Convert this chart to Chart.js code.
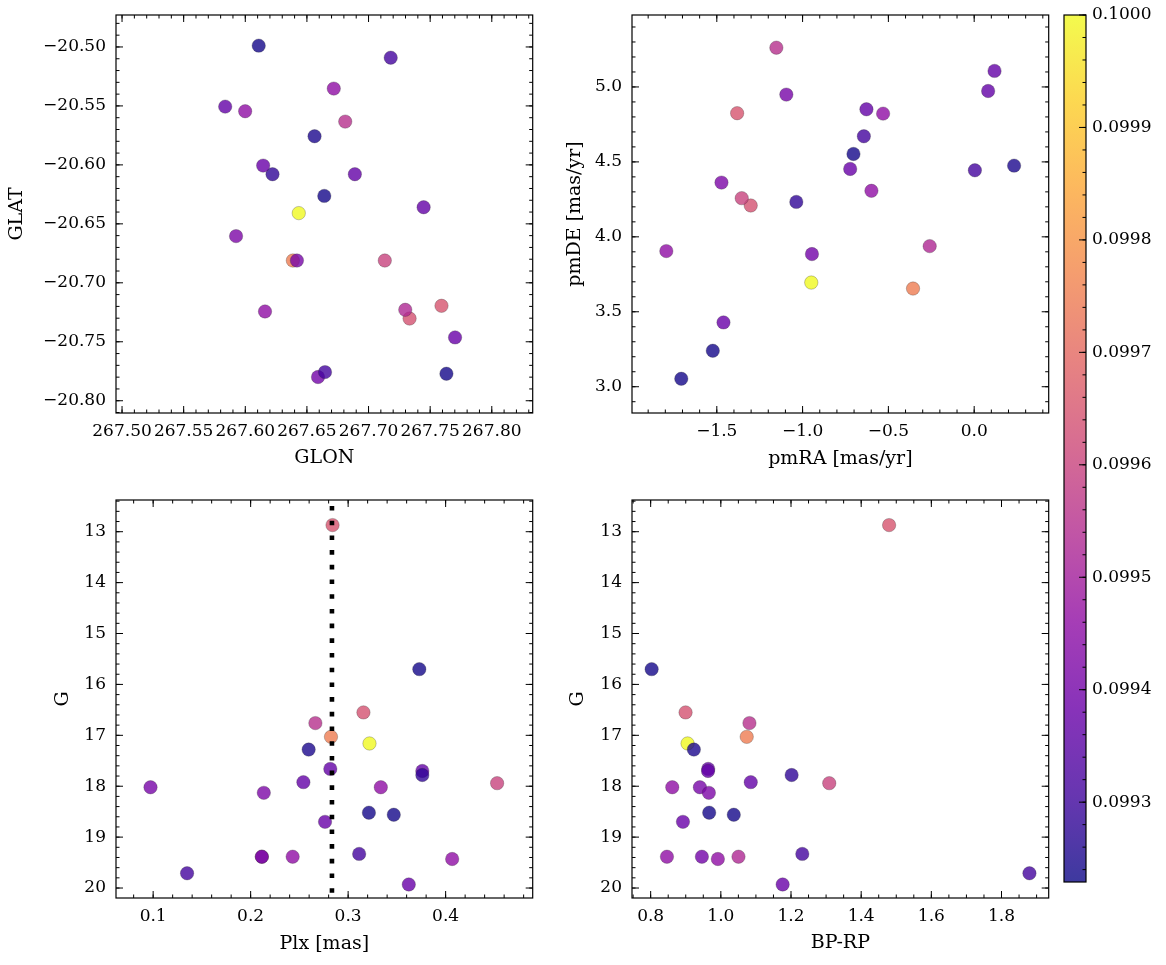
<!DOCTYPE html>
<html><head><meta charset="utf-8">
<script src="https://cdn.jsdelivr.net/npm/chart.js@4.4.1/dist/chart.umd.min.js"></script>
<style>
html,body{margin:0;padding:0;background:#fff;}
#wrap{position:relative;width:1166px;height:965px;overflow:hidden;background:#fff;}
canvas{position:absolute;}
</style></head><body><div id="wrap">
<canvas id="c1" style="left:0px;top:0px" width="540" height="485"></canvas>
<canvas id="c2" style="left:540px;top:0px" width="516" height="485"></canvas>
<canvas id="c3" style="left:0px;top:485px" width="540" height="480"></canvas>
<canvas id="c4" style="left:540px;top:485px" width="516" height="480"></canvas>
<canvas id="cb" style="left:1040px;top:0px" width="126" height="965"></canvas>
</div>
<script>
// ---- data (one entry per star) ----
const glon = [267.7592,267.6109,267.7333,267.6811,267.6386,267.6434,267.6562,267.5837,267.6889,267.6221,267.6419,267.7447,267.6718,267.7132,267.5925,267.6641,267.7632,267.7702,267.7298,267.6590,267.5999,267.7180,267.6160,267.6647,267.6145];
const glat = [-20.7195,-20.4989,-20.7303,-20.5633,-20.6811,-20.6409,-20.5757,-20.5506,-20.6079,-20.6079,-20.6811,-20.6359,-20.5353,-20.6811,-20.6604,-20.6263,-20.7771,-20.7463,-20.7229,-20.7799,-20.5545,-20.5091,-20.7243,-20.7757,-20.6006];
const pmra = [-1.3814,-0.7035,-1.3023,-1.1529,-0.3564,-0.9494,0.2326,-0.6279,0.1186,-1.0366,-1.0948,0.0814,-0.5308,-1.3547,-1.4727,-1.5233,-1.7070,-0.7227,-0.2593,-0.9454,-1.7942,-0.6430,-0.5988,0.0041,-1.4610];
const pmde = [4.825,4.553,4.209,5.262,3.655,3.695,4.475,4.851,5.107,4.233,4.949,4.973,4.822,4.258,4.362,3.240,3.053,4.453,3.938,3.885,3.905,4.671,4.307,4.444,3.429];
const plx  = [0.2840,0.3730,0.3157,0.2664,0.2824,0.3219,0.2595,0.2817,0.3761,0.3761,0.0973,0.2541,0.3335,0.4528,0.2135,0.3213,0.3468,0.2763,0.2115,0.2115,0.2431,0.3113,0.4067,0.1348,0.3622];
const gmag = [12.87,15.70,16.55,16.76,17.03,17.16,17.28,17.66,17.70,17.78,18.02,17.92,18.02,17.94,18.13,18.52,18.56,18.70,19.385,19.385,19.385,19.33,19.43,19.71,19.93];
const bprp = [1.4796,0.8028,0.8995,1.0815,1.0738,0.9052,0.9231,0.9640,0.9635,1.2018,0.9403,1.0853,0.8616,1.3090,0.9659,0.9668,1.0369,0.8920,1.0503,0.9460,0.8464,1.2322,0.9915,1.8796,1.1762];
const prob = [0.09965,0.09924,0.09964,0.09955,0.09975,0.10000,0.09925,0.09937,0.09937,0.09928,0.09941,0.09937,0.09946,0.09960,0.09942,0.09924,0.09924,0.09938,0.09953,0.09940,0.09946,0.09931,0.09946,0.09931,0.09938];
const plxRef = 0.2834;

// ---- tick labels ----
const glonTicks = [267.50,267.55,267.60,267.65,267.70,267.75,267.80];
const glatTicks = [-20.80,-20.75,-20.70,-20.65,-20.60,-20.55,-20.50];
const pmraTicks = [-1.5,-1.0,-0.5,0.0];
const pmdeTicks = [3.0,3.5,4.0,4.5,5.0];
const plxTicks  = [0.1,0.2,0.3,0.4];
const gTicks    = [13,14,15,16,17,18,19,20];
const bprpTicks = [0.8,1.0,1.2,1.4,1.6,1.8];
const probTicks = [0.0993,0.0994,0.0995,0.0996,0.0997,0.0998,0.0999,0.1000];

const vmin = 0.099229, vmax = 0.1000;
const FONT = "'DejaVu Serif', serif";
const TICKSIZE = 17, TITLESIZE = 19;

const plasma = ['#0d0887','#41049d','#6a00a8','#8f0da4','#b12a90','#cc4778','#e16462','#f2844b','#fca636','#fcce25','#f0f921'];
function hex2rgb(h){return [parseInt(h.slice(1,3),16),parseInt(h.slice(3,5),16),parseInt(h.slice(5,7),16)];}
function cmap(t,a){
  t=Math.max(0,Math.min(1,t)); const s=t*10; const i=Math.min(9,Math.floor(s)); const f=s-i;
  const c0=hex2rgb(plasma[i]), c1=hex2rgb(plasma[i+1]);
  const c=c0.map((v,k)=>Math.round(v+(c1[k]-v)*f));
  return 'rgba('+c[0]+','+c[1]+','+c[2]+','+a+')';
}
const colors = prob.map(p=>cmap((p-vmin)/(vmax-vmin),0.8));
const fmt = d => v => (v<0?'\u2212':'')+Math.abs(v).toFixed(d);

function multiples(min,max,step){
  const out=[]; const k0=Math.ceil(min/step-1e-6), k1=Math.floor(max/step+1e-6);
  for(let k=k0;k<=k1;k++) out.push(k*step);
  return out;
}

function framePlugin(o){
  return {id:'frame', afterDatasetsDraw(chart){
    const ctx=chart.ctx, a=chart.chartArea, x=chart.scales.x, y=chart.scales.y;
    ctx.save(); ctx.strokeStyle='#000'; ctx.lineWidth=1;
    const tx=(vals,len)=>{vals.forEach(v=>{const p=x.getPixelForValue(v); if(p<a.left-0.5||p>a.right+0.5)return;
      ctx.beginPath(); ctx.moveTo(p,a.bottom); ctx.lineTo(p,a.bottom-len); ctx.moveTo(p,a.top); ctx.lineTo(p,a.top+len); ctx.stroke();});};
    const ty=(vals,len)=>{vals.forEach(v=>{const p=y.getPixelForValue(v); if(p<a.top-0.5||p>a.bottom+0.5)return;
      ctx.beginPath(); ctx.moveTo(a.left,p); ctx.lineTo(a.left+len,p); ctx.moveTo(a.right,p); ctx.lineTo(a.right-len,p); ctx.stroke();});};
    tx(multiples(o.xmin,o.xmax,o.xminor),3.5); tx(o.xt,7);
    ty(multiples(o.ymin,o.ymax,o.yminor),3.5); ty(o.yt,7);
    ctx.lineWidth=1.2; ctx.strokeRect(a.left,a.top,a.right-a.left,a.bottom-a.top);
    ctx.restore();
  }};
}

function makePanel(id,xs,ys,o){
  const pts = xs.map((v,i)=>({x:v,y:ys[i]}));
  const datasets=[];
  if(o.vline!==undefined){
    datasets.push({type:'line',data:[{x:o.vline,y:o.ymin},{x:o.vline,y:o.ymax}],borderColor:'#000',borderWidth:4.6,
      borderDash:[4.6,10.1],borderDashOffset:-6,borderCapStyle:'butt',pointRadius:0,fill:false,order:0,tension:0});
  }
  datasets.push({type:'scatter',data:pts,backgroundColor:colors,borderColor:'rgba(40,40,40,0.45)',borderWidth:0.6,pointRadius:6.7,pointHoverRadius:6.7,order:1});
  new Chart(document.getElementById(id),{
    type:'scatter',
    data:{datasets},
    options:{
      responsive:false, animation:false, devicePixelRatio:1,
      plugins:{legend:{display:false},tooltip:{enabled:false}},
      layout:{padding:o.pad},
      scales:{
        x:{type:'linear',min:o.xmin,max:o.xmax,
          afterBuildTicks:s=>{s.ticks=o.xt.map(v=>({value:v}));},
          ticks:{autoSkip:false,maxRotation:0,minRotation:0,padding:o.xpad,font:{family:FONT,size:TICKSIZE},color:'#000',callback:o.xf},
          grid:{display:false,drawTicks:false},border:{display:false},
          title:{display:true,text:o.xl,font:{family:FONT,size:TITLESIZE},color:'#000',padding:{top:0,bottom:o.xtp}},
          afterFit:s=>{s.height=o.xh;s.paddingLeft=0;s.paddingRight=0;}},
        y:{type:'linear',min:o.ymin,max:o.ymax,reverse:!!o.rev,
          afterBuildTicks:s=>{s.ticks=o.yt.map(v=>({value:v}));},
          ticks:{autoSkip:false,padding:10,font:{family:FONT,size:TICKSIZE},color:'#000',callback:o.yf},
          grid:{display:false,drawTicks:false},border:{display:false},
          title:{display:true,text:o.yl,font:{family:FONT,size:TITLESIZE},color:'#000',padding:{top:o.ytp,bottom:0}},
          afterFit:s=>{s.width=o.yw;s.paddingTop=0;s.paddingBottom=0;}}
      }
    },
    plugins:[framePlugin(o)]
  });
}

makePanel('c1',glon,glat,{xmin:267.4951,xmax:267.8332,ymin:-20.8104,ymax:-20.4729,xt:glonTicks,yt:glatTicks,
  xminor:0.01,yminor:0.01,xf:fmt(2),yf:fmt(2),xl:'GLON',yl:'GLAT',pad:{left:0,top:15,right:6,bottom:0},
  yw:116,xh:72,xtp:16,ytp:6,xpad:8});
makePanel('c2',pmra,pmde,{xmin:-1.9942,xmax:0.4343,ymin:2.8247,ymax:5.48,xt:pmraTicks,yt:pmdeTicks,
  xminor:0.1,yminor:0.1,xf:fmt(1),yf:fmt(1),xl:'pmRA [mas/yr]',yl:'pmDE [mas/yr]',pad:{left:0,top:15,right:6,bottom:0},
  yw:92,xh:72,xtp:15,ytp:23.6,xpad:8});
makePanel('c3',plx,gmag,{xmin:0.0619,xmax:0.4893,ymin:12.377,ymax:20.196,rev:true,xt:plxTicks,yt:gTicks,
  xminor:0.02,yminor:0.2,xf:fmt(1),yf:fmt(0),xl:'Plx [mas]',yl:'G',pad:{left:0,top:15,right:6,bottom:0},
  yw:116,xh:67,xtp:9.6,ytp:51.5,xpad:8,vline:plxRef});
makePanel('c4',bprp,gmag,{xmin:0.7468,xmax:1.9345,ymin:12.377,ymax:20.196,rev:true,xt:bprpTicks,yt:gTicks,
  xminor:0.05,yminor:0.2,xf:fmt(1),yf:fmt(0),xl:'BP-RP',yl:'G',pad:{left:0,top:15,right:6,bottom:0},
  yw:92,xh:67,xtp:11,ytp:27,xpad:8});

// ---- colorbar ----
new Chart(document.getElementById('cb'),{
  type:'scatter',
  data:{datasets:[{data:[]}]},
  options:{
    responsive:false,animation:false,devicePixelRatio:1,
    plugins:{legend:{display:false},tooltip:{enabled:false}},
    layout:{padding:{left:24,top:15,right:0,bottom:83}},
    scales:{
      x:{display:false,min:0,max:1},
      y:{position:'right',min:vmin,max:vmax,
        afterBuildTicks:s=>{s.ticks=probTicks.map(v=>({value:v}));},
        ticks:{autoSkip:false,padding:6,font:{family:FONT,size:TICKSIZE},color:'#000',callback:v=>v.toFixed(4)},
        grid:{display:false,drawTicks:false},border:{display:false},
        afterFit:s=>{s.width=80;s.paddingTop=0;s.paddingBottom=0;}}
    }
  },
  plugins:[{id:'cbar',beforeDatasetsDraw(chart){
    const ctx=chart.ctx,a=chart.chartArea,y=chart.scales.y;
    ctx.save();
    const g=ctx.createLinearGradient(0,a.bottom,0,a.top);
    plasma.forEach((c,i)=>g.addColorStop(i/10,cmap(i/10,0.8)));
    ctx.fillStyle=g; ctx.fillRect(a.left,a.top,a.right-a.left,a.bottom-a.top);
    ctx.strokeStyle='#000'; ctx.lineWidth=1;
    multiples(vmin,vmax,0.00002).forEach(v=>{const p=y.getPixelForValue(v);ctx.beginPath();ctx.moveTo(a.right,p);ctx.lineTo(a.right-3.5,p);ctx.stroke();});
    probTicks.forEach(v=>{const p=y.getPixelForValue(v);ctx.beginPath();ctx.moveTo(a.right,p);ctx.lineTo(a.right-7,p);ctx.stroke();});
    ctx.lineWidth=1.2; ctx.strokeRect(a.left,a.top,a.right-a.left,a.bottom-a.top);
    ctx.restore();
  }}]
});
</script></body></html>
